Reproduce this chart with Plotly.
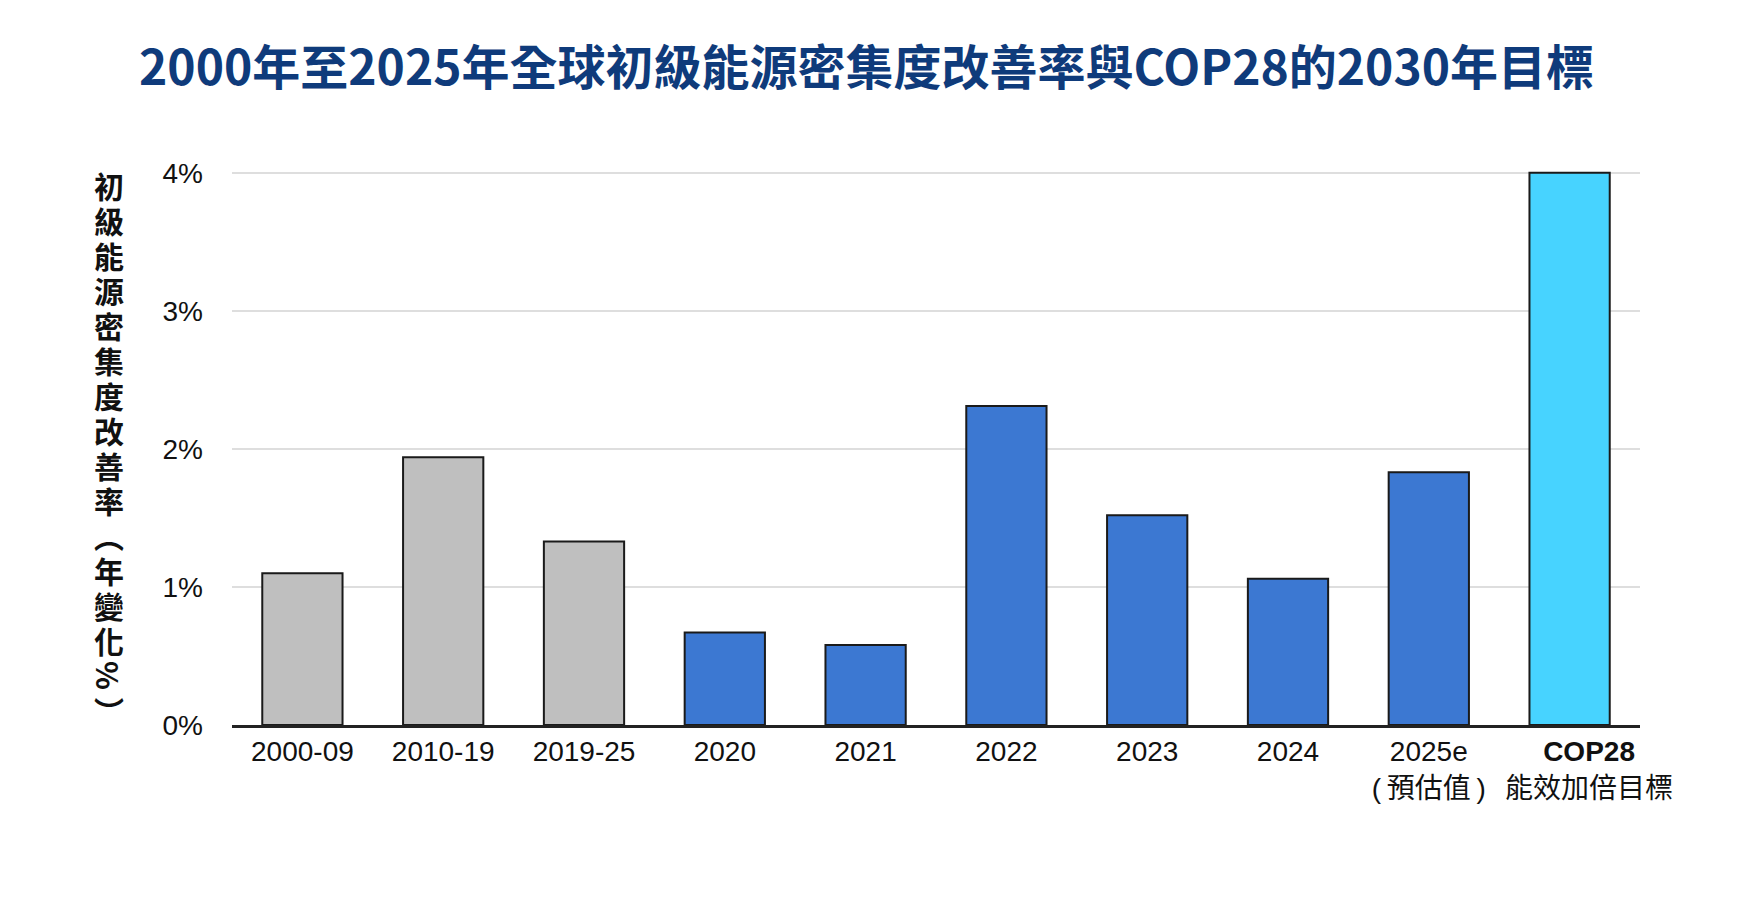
import plotly.graph_objects as go

# categories and values (% per year)
categories = ["2000-09", "2010-19", "2019-25", "2020", "2021", "2022", "2023", "2024", "2025e", "COP28"]
pad = "\u00a0" * 5  # the COP28 label sits a little right of its bar in the reference
tick_labels = ["2000-09", "2010-19", "2019-25", "2020", "2021", "2022", "2023", "2024",
               "2025e<br>(\u2009預估值\u2009)", pad + "<b>COP28</b><br>" + pad + "能效加倍目標"]
values = [1.10, 1.94, 1.33, 0.67, 0.58, 2.31, 1.52, 1.06, 1.83, 4.00]
bar_colors = ["#bfbfbf"] * 3 + ["#3c78d2"] * 6 + ["#47d3ff"]

y_ticks = [0, 1, 2, 3, 4]
y_tick_text = ["0%", "1%", "2%", "3%", "4%"]

title = "2000年至2025年全球初級能源密集度改善率與COP28的2030年目標"
y_title = "初級能源密集度改善率︵年變化%︶"

font_main = "Liberation Sans, Arial, Noto Sans CJK TC, sans-serif"

# the page body has an 8px margin, so the figure is sized to sit inside it
W, H = 1741, 883
plot_top, plot_bottom = 162, 717

fig = go.Figure()
fig.add_trace(go.Bar(
    x=categories,
    y=values,
    marker=dict(color=bar_colors, line=dict(color="#1a1a1a", width=2)),
    hoverinfo="x+y",
))

#title
fig.add_annotation(
    text="<b>" + title + "</b>",
    xref="paper", yref="paper", x=0.5, y=1,
    xanchor="center", yanchor="middle", xshift=-70, yshift=plot_top - 56,
    showarrow=False,
    font=dict(family="Noto Sans CJK TC", size=48, color="#0f3b7b"),
)

#vertical y axis title, one character per annotation (stacked top to bottom)
pitch = 35
for i, ch in enumerate(y_title):
    fig.add_annotation(
        text="<b>" + ch + "</b>",
        xref="paper", yref="paper", x=0, y=1,
        xanchor="center", yanchor="middle",
        xshift=-123, yshift=-(177 - plot_top) - pitch * i,
        height=pitch - 1,
        textangle=90 if ch == "%" else 0,
        showarrow=False,
        font=dict(family="Noto Sans CJK TC", size=30, color="#111111"),
    )

fig.update_layout(
    width=W, height=H,
    margin=dict(l=224, r=W - 1632, t=plot_top, b=H - plot_bottom),
    plot_bgcolor="white", paper_bgcolor="white",
    bargap=0.43,
    showlegend=False,
    font=dict(family=font_main, size=28, color="#111111"),
)
fig.update_xaxes(
    tickmode="array", tickvals=categories, ticktext=tick_labels,
    tickangle=0,
    showline=True, linecolor="#222222", linewidth=2.5,
    ticks="", ticklen=0, showgrid=False,
    tickfont=dict(family=font_main, size=28, color="#111111"),
)
fig.update_yaxes(
    range=[0, 4.02],
    tickmode="array", tickvals=y_ticks, ticktext=y_tick_text,
    showgrid=True, gridcolor="#dedede", gridwidth=2,
    zeroline=False, showline=False, ticks="", ticklen=0,
    tickfont=dict(family=font_main, size=28, color="#111111"),
    ticklabelstandoff=28,
)

fig.write_html("out.html")
